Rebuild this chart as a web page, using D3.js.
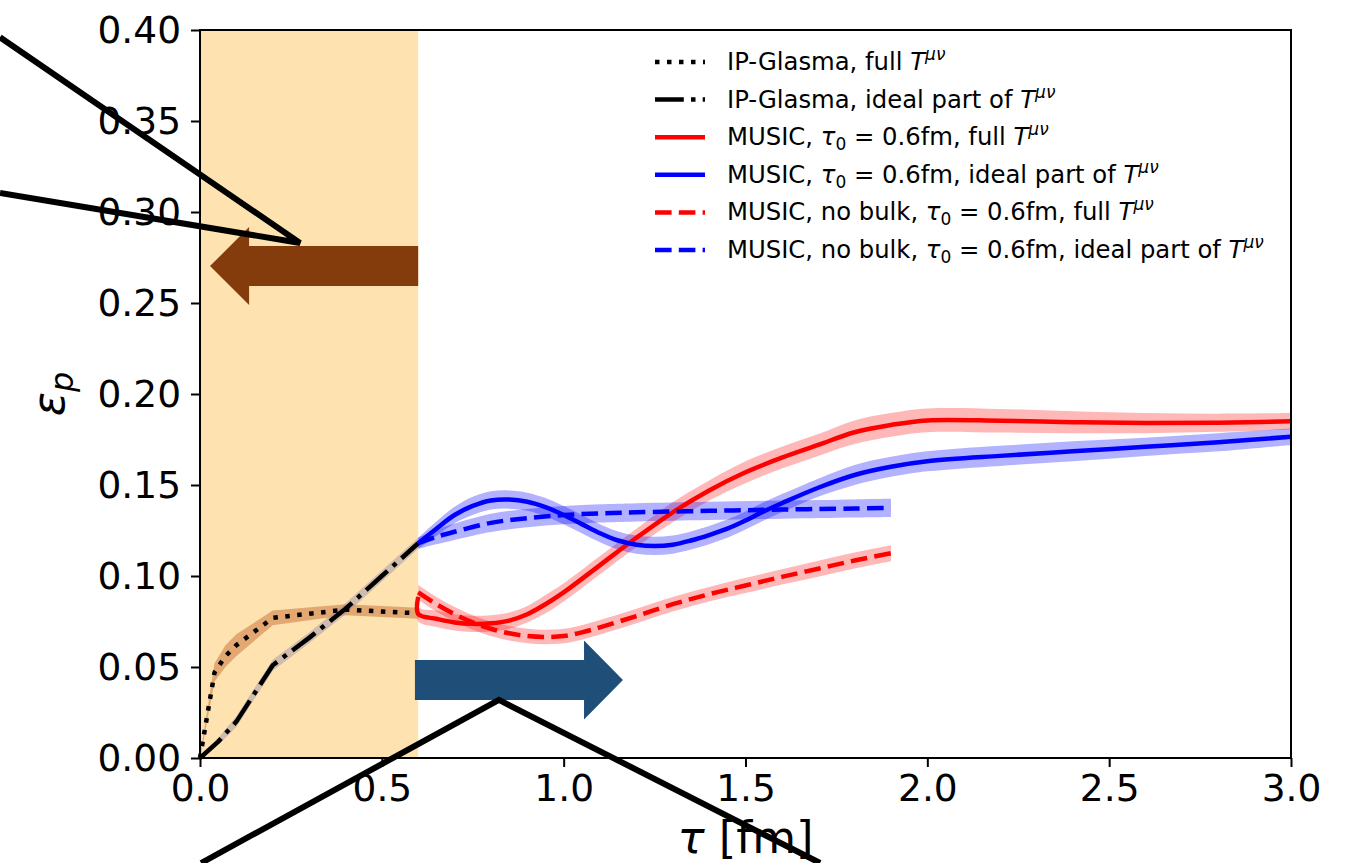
<!DOCTYPE html>
<html>
<head>
<meta charset="utf-8">
<script src="https://cdn.jsdelivr.net/npm/d3@7"></script>
<style>
  body { margin: 0; background: #fff; }
  svg { display: block; font-family: "DejaVu Sans", sans-serif; }
</style>
</head>
<body>
<svg id="chart" width="1349" height="863"></svg>
<script>
// tau [fm] and eccentricity values
const ipFullTau = [0, 0.04, 0.07, 0.1, 0.2, 0.4, 0.6];
const ipFullEps = [0, 0.047, 0.056, 0.062, 0.077, 0.0815, 0.0795];
const ipFullErr = [0.001, 0.005, 0.006, 0.006, 0.004, 0.003, 0.003];

const ipIdealTau = [0, 0.05, 0.1, 0.2, 0.3, 0.4, 0.5, 0.6];
const ipIdealEps = [0, 0.009, 0.02, 0.051, 0.066, 0.082, 0.1, 0.118];
const ipIdealErr = [0.001, 0.002, 0.003, 0.003, 0.003, 0.003, 0.003, 0.003];

const musicFullTau = [0.6, 0.6005, 0.65, 0.7, 0.75, 0.8, 0.85, 0.9, 0.95, 1.0, 1.1, 1.2, 1.3, 1.4, 1.5, 1.6, 1.7, 1.8, 1.9, 2.0, 2.2, 2.4, 2.6, 2.8, 3.0];
const musicFullEps = [0.0885, 0.079, 0.0765, 0.0745, 0.0737, 0.074, 0.0755, 0.079, 0.0845, 0.091, 0.106, 0.121, 0.135, 0.147, 0.157, 0.165, 0.172, 0.179, 0.183, 0.1855, 0.1853, 0.1845, 0.184, 0.1842, 0.185];
const musicFullErr = [0.004, 0.004, 0.0045, 0.0045, 0.0045, 0.0045, 0.0045, 0.0045, 0.005, 0.005, 0.005, 0.005, 0.0055, 0.0055, 0.006, 0.006, 0.006, 0.0065, 0.0065, 0.0065, 0.0065, 0.006, 0.0055, 0.005, 0.0045];

const musicIdealTau = [0.6, 0.65, 0.7, 0.75, 0.8, 0.85, 0.9, 0.95, 1.0, 1.05, 1.1, 1.15, 1.2, 1.25, 1.3, 1.35, 1.4, 1.45, 1.5, 1.55, 1.6, 1.7, 1.8, 1.9, 2.0, 2.2, 2.4, 2.6, 2.8, 3.0];
const musicIdealEps = [0.118, 0.126, 0.1335, 0.1385, 0.1415, 0.142, 0.1408, 0.1378, 0.1335, 0.1285, 0.1235, 0.1195, 0.1172, 0.1165, 0.1172, 0.1195, 0.1225, 0.126, 0.1305, 0.1355, 0.14, 0.1485, 0.1555, 0.16, 0.163, 0.166, 0.1685, 0.171, 0.1735, 0.1765];
const musicIdealErr = [0.003, 0.004, 0.0045, 0.005, 0.005, 0.005, 0.005, 0.005, 0.005, 0.005, 0.005, 0.005, 0.005, 0.005, 0.005, 0.005, 0.005, 0.005, 0.005, 0.005, 0.005, 0.005, 0.0055, 0.0055, 0.0055, 0.0055, 0.0055, 0.005, 0.005, 0.0045];

const noBulkFullTau = [0.6, 0.65, 0.7, 0.75, 0.8, 0.85, 0.9, 0.95, 1.0, 1.05, 1.1, 1.2, 1.3, 1.4, 1.5, 1.6, 1.7, 1.8, 1.9];
const noBulkFullEps = [0.091, 0.0845, 0.079, 0.0745, 0.071, 0.0685, 0.067, 0.0665, 0.067, 0.069, 0.0718, 0.078, 0.0845, 0.09, 0.0948, 0.0995, 0.104, 0.1085, 0.1125];
const noBulkFullErr = [0.004, 0.004, 0.004, 0.004, 0.004, 0.004, 0.004, 0.004, 0.004, 0.004, 0.004, 0.004, 0.004, 0.004, 0.0042, 0.0042, 0.0044, 0.0044, 0.0044];

const noBulkIdealTau = [0.6, 0.65, 0.7, 0.8, 0.9, 1.0, 1.1, 1.2, 1.4, 1.6, 1.8, 1.9];
const noBulkIdealEps = [0.118, 0.1215, 0.1243, 0.1292, 0.1318, 0.1335, 0.1344, 0.135, 0.1358, 0.1365, 0.1371, 0.1374];
const noBulkIdealErr = [0.003, 0.004, 0.0045, 0.005, 0.005, 0.005, 0.005, 0.005, 0.005, 0.005, 0.005, 0.005];

const xTicks = [0, 0.5, 1.0, 1.5, 2.0, 2.5, 3.0];
const yTicks = [0, 0.05, 0.10, 0.15, 0.20, 0.25, 0.30, 0.35, 0.40];

// IP-Glasma stage ends at tau0
const tau0 = 0.6;

const width = 1349, height = 863;
const margin = {top: 30, right: 58, bottom: 105, left: 200};

const svg = d3.select("#chart");

const x = d3.scaleLinear().domain([0, 3]).range([margin.left, width - margin.right]);
const y = d3.scaleLinear().domain([0, 0.4]).range([height - margin.bottom, margin.top]);

function zipSeries(taus, eps, err) {
  return taus.map((t, i) => ({t: t, e: eps[i], d: err[i]}));
}

const series = [
  {data: zipSeries(ipFullTau, ipFullEps, ipFullErr), color: "#000", band: "rgba(200,110,50,0.5)", dash: "4.5,7.5", curve: d3.curveLinear},
  {data: zipSeries(ipIdealTau, ipIdealEps, ipIdealErr), color: "#000", band: "rgba(150,140,170,0.45)", dash: "28.8,7.2,4.5,7.2", curve: d3.curveLinear},
  {data: zipSeries(musicFullTau, musicFullEps, musicFullErr), color: "#ff0000", band: "rgba(255,0,0,0.28)", dash: null, curve: d3.curveCatmullRom.alpha(0.5)},
  {data: zipSeries(musicIdealTau, musicIdealEps, musicIdealErr), color: "#0000ff", band: "rgba(0,0,255,0.3)", dash: null, curve: d3.curveCatmullRom.alpha(0.5)},
  {data: zipSeries(noBulkFullTau, noBulkFullEps, noBulkFullErr), color: "#ff0000", band: "rgba(255,0,0,0.28)", dash: "16.6,7.2", curve: d3.curveCatmullRom.alpha(0.5)},
  {data: zipSeries(noBulkIdealTau, noBulkIdealEps, noBulkIdealErr), color: "#0000ff", band: "rgba(0,0,255,0.3)", dash: "16.6,7.2", curve: d3.curveCatmullRom.alpha(0.5)}
];

// shaded IP-Glasma region
svg.append("rect")
  .attr("x", x(0))
  .attr("y", y(0.4))
  .attr("width", x(tau0) - x(0))
  .attr("height", y(0) - y(0.4))
  .attr("fill", "#fee3b0");

// bands
series.forEach(s => {
  const area = d3.area()
    .curve(s.curve)
    .x(d => x(d.t))
    .y0(d => y(d.e - d.d))
    .y1(d => y(d.e + d.d));
  svg.append("path")
    .datum(s.data)
    .attr("d", area)
    .attr("fill", s.band)
    .attr("stroke", "none");
});

// lines
series.forEach(s => {
  const line = d3.line()
    .curve(s.curve)
    .x(d => x(d.t))
    .y(d => y(d.e));
  svg.append("path")
    .datum(s.data)
    .attr("d", line)
    .attr("fill", "none")
    .attr("stroke", s.color)
    .attr("stroke-width", 4.5)
    .attr("stroke-dasharray", s.dash)
    .attr("stroke-linejoin", "round");
});

// big block arrows (in data units)
function blockArrow(tail, tip, headBase, yc, bodyHalf, headHalf) {
  const pts = [
    [tail, yc + bodyHalf], [headBase, yc + bodyHalf], [headBase, yc + headHalf],
    [tip, yc], [headBase, yc - headHalf], [headBase, yc - bodyHalf], [tail, yc - bodyHalf]
  ];
  return "M" + pts.map(p => x(p[0]) + "," + y(p[1])).join("L") + "Z";
}
svg.append("path")
  .attr("d", blockArrow(0.6, 0.0275, 0.135, 0.2703, 0.011, 0.0214))
  .attr("fill", "#843c0c");
svg.append("path")
  .attr("d", blockArrow(0.591, 1.163, 1.056, 0.0429, 0.011, 0.0217))
  .attr("fill", "#1f4e79");

// axes
const xAxis = svg.append("g")
  .attr("transform", `translate(0,${y(0)})`)
  .call(d3.axisBottom(x).tickValues(xTicks).tickFormat(d3.format(".1f")).tickSize(9).tickPadding(7));
const yAxis = svg.append("g")
  .attr("transform", `translate(${x(0)},0)`)
  .call(d3.axisLeft(y).tickValues(yTicks).tickFormat(d3.format(".2f")).tickSize(9).tickPadding(10));

[xAxis, yAxis].forEach(g => {
  g.select(".domain").remove();
  g.selectAll(".tick line").attr("stroke", "#000").attr("stroke-width", 2);
  g.selectAll(".tick text")
    .attr("fill", "#000")
    .attr("font-size", 37.5)
    .attr("font-family", "DejaVu Sans, sans-serif");
});

// frame
svg.append("rect")
  .attr("x", x(0))
  .attr("y", y(0.4))
  .attr("width", x(3) - x(0))
  .attr("height", y(0) - y(0.4))
  .attr("fill", "none")
  .attr("stroke", "#000")
  .attr("stroke-width", 2);

// axis titles
svg.append("text")
  .attr("x", x(1.5))
  .attr("y", 853)
  .attr("text-anchor", "middle")
  .attr("font-size", 45)
  .html('<tspan font-style="italic">τ</tspan> [fm]');

svg.append("text")
  .attr("transform", `translate(64,${(y(0) + y(0.4)) / 2}) rotate(-90)`)
  .attr("text-anchor", "middle")
  .attr("font-size", 45)
  .html('<tspan font-style="italic">ε</tspan><tspan font-style="italic" font-size="32" dy="9">p</tspan>');

// legend
const legendItems = [
  {color: "#000", dash: "4.5,7.5", parts: [["IP-Glasma, full ", ""], ["T", "it"], ["μν", "sup"]]},
  {color: "#000", dash: "28.8,7.2,4.5,7.2", parts: [["IP-Glasma, ideal part of ", ""], ["T", "it"], ["μν", "sup"]]},
  {color: "#ff0000", dash: null, parts: [["MUSIC, ", ""], ["τ", "it"], ["0", "sub"], [" = 0.6fm, full ", ""], ["T", "it"], ["μν", "sup"]]},
  {color: "#0000ff", dash: null, parts: [["MUSIC, ", ""], ["τ", "it"], ["0", "sub"], [" = 0.6fm, ideal part of ", ""], ["T", "it"], ["μν", "sup"]]},
  {color: "#ff0000", dash: "16.6,7.2", parts: [["MUSIC, no bulk, ", ""], ["τ", "it"], ["0", "sub"], [" = 0.6fm, full ", ""], ["T", "it"], ["μν", "sup"]]},
  {color: "#0000ff", dash: "16.6,7.2", parts: [["MUSIC, no bulk, ", ""], ["τ", "it"], ["0", "sub"], [" = 0.6fm, ideal part of ", ""], ["T", "it"], ["μν", "sup"]]}
];

const legend = svg.append("g").attr("transform", "translate(655,62)");
legendItems.forEach((item, i) => {
  const row = legend.append("g").attr("transform", `translate(0,${i * 37.6})`);
  row.append("line")
    .attr("x1", 0).attr("x2", 50)
    .attr("y1", 0).attr("y2", 0)
    .attr("stroke", item.color)
    .attr("stroke-width", 4.5)
    .attr("stroke-dasharray", item.dash);
  const txt = row.append("text")
    .attr("x", 72)
    .attr("y", 8)
    .attr("font-size", 24.3)
    .attr("fill", "#000");
  let shift = 0;
  item.parts.forEach(p => {
    const ts = txt.append("tspan").text(p[0]);
    let target = 0;
    if (p[1] === "it") ts.attr("font-style", "italic");
    if (p[1] === "sup") { ts.attr("font-size", 17).attr("font-style", "italic"); target = -10; }
    if (p[1] === "sub") { ts.attr("font-size", 17); target = 5; }
    if (target !== shift) { ts.attr("dy", target - shift); shift = target; }
  });
});

// callout lines
const calloutTop = [[-0.55, 0.396], [0.275, 0.283], [-0.55, 0.3104]];
const calloutBottom = [[0.003, -0.0577], [0.822, 0.0319], [1.705, -0.0577]];
const callLine = d3.line().x(d => x(d[0])).y(d => y(d[1]));
[calloutTop, calloutBottom].forEach(c => {
  svg.append("path")
    .attr("d", callLine(c))
    .attr("fill", "none")
    .attr("stroke", "#000")
    .attr("stroke-width", 6)
    .attr("stroke-linejoin", "miter");
});
</script>
</body>
</html>
